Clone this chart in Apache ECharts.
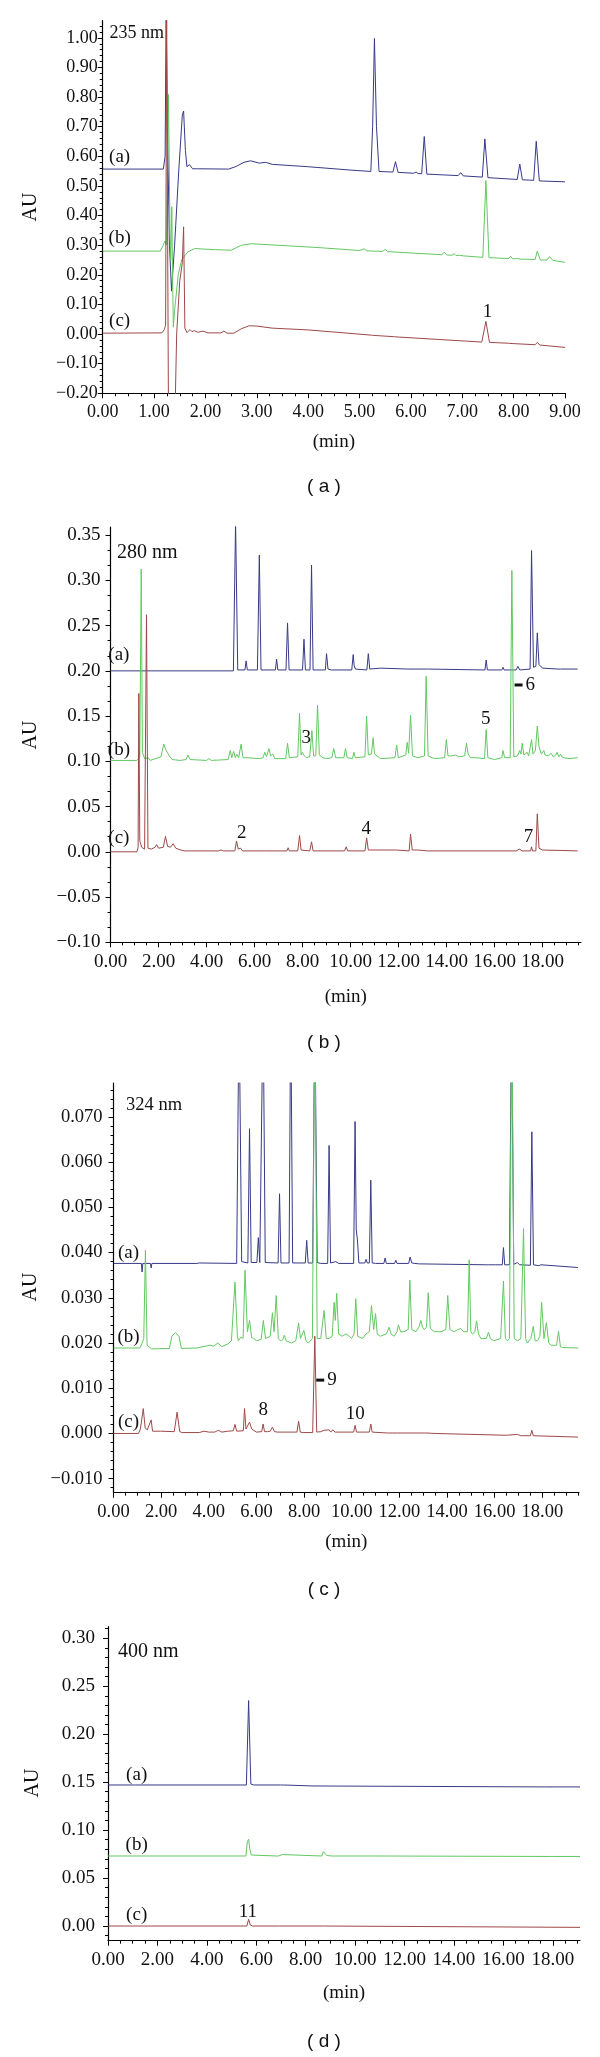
<!DOCTYPE html>
<html><head><meta charset="utf-8">
<script src="https://cdn.jsdelivr.net/npm/echarts@6/dist/echarts.min.js"></script>
<style>html,body{margin:0;padding:0;background:#fff}#c{width:600px;height:2057px}</style>
</head><body><div id="c"></div>
<script>
// ---------------- DATA ----------------
const xName = '(min)';
const yName = 'AU';
const captions = ['( a )', '( b )', '( c )', '( d )'];
const wavelengths = ['235 nm', '280 nm', '324 nm', '400 nm'];
const traceNames = ['(a)', '(b)', '(c)'];

// Panel (a) 235 nm : [time, AU]
const A_a = [[0,0.557],[1.18,0.557],[1.215,0.6],[1.235,1.10],[1.26,0.7],[1.30,0.30],[1.34,0.145],[1.40,0.30],[1.48,0.55],[1.55,0.74],[1.575,0.753],[1.61,0.62],[1.64,0.565],[1.69,0.572],[1.75,0.558],[1.85,0.558],[2.45,0.557],[2.6,0.566],[2.75,0.580],[2.88,0.585],[3.05,0.577],[3.17,0.580],[3.3,0.573],[4.0,0.565],[4.8,0.554],[5.22,0.549],[5.255,0.70],[5.29,0.998],[5.33,0.70],[5.38,0.549],[5.65,0.547],[5.70,0.582],[5.75,0.546],[6.05,0.543],[6.10,0.547],[6.14,0.542],[6.21,0.541],[6.26,0.667],[6.31,0.540],[6.92,0.535],[6.97,0.545],[7.02,0.534],[7.39,0.530],[7.44,0.659],[7.50,0.528],[8.07,0.522],[8.12,0.574],[8.17,0.521],[8.39,0.519],[8.44,0.651],[8.50,0.517],[9.0,0.514]];
const A_b = [[0,0.280],[1.12,0.280],[1.18,0.300],[1.21,0.314],[1.24,0.300],[1.28,0.809],[1.31,0.35],[1.325,0.25],[1.345,0.43],[1.36,0.20],[1.375,0.023],[1.40,0.08],[1.47,0.20],[1.54,0.252],[1.66,0.278],[1.8,0.289],[1.95,0.287],[2.2,0.285],[2.5,0.283],[2.7,0.300],[2.9,0.305],[3.2,0.302],[3.6,0.298],[4.2,0.292],[5.0,0.282],[5.09,0.288],[5.14,0.281],[5.45,0.279],[5.5,0.286],[5.55,0.278],[5.7,0.277],[5.73,0.282],[5.77,0.276],[6.6,0.268],[6.65,0.276],[6.7,0.267],[6.8,0.266],[6.84,0.272],[6.88,0.265],[6.95,0.266],[6.98,0.271],[7.02,0.264],[7.40,0.259],[7.46,0.518],[7.52,0.258],[7.9,0.255],[7.94,0.263],[7.98,0.254],[8.07,0.255],[8.1,0.261],[8.14,0.253],[8.42,0.252],[8.46,0.280],[8.52,0.250],[8.65,0.250],[8.70,0.262],[8.76,0.249],[9.0,0.242]];
const A_c = [[0,0.003],[1.15,0.004],[1.20,0.015],[1.225,0.03],[1.245,1.10],[1.265,0.30],[1.28,-0.25],[1.41,-0.25],[1.44,0.0],[1.50,0.18],[1.55,0.24],[1.575,0.362],[1.60,0.02],[1.64,0.005],[1.70,0.015],[1.74,0.008],[1.78,0.012],[1.85,0.006],[1.95,0.010],[2.05,0.004],[2.30,0.004],[2.36,0.010],[2.42,0.003],[2.55,0.003],[2.7,0.018],[2.85,0.028],[3.0,0.027],[3.3,0.020],[4.0,0.014],[4.7,0.004],[5.25,-0.004],[5.28,0.001],[5.32,-0.005],[5.68,-0.009],[5.71,-0.005],[5.75,-0.010],[7.38,-0.027],[7.46,0.043],[7.53,-0.028],[7.9,-0.031],[7.93,-0.028],[7.97,-0.032],[8.42,-0.036],[8.46,-0.028],[8.51,-0.037],[9.0,-0.045]];
const A_xTicks = [0,1,2,3,4,5,6,7,8,9];
const A_yTicks = [-0.2,-0.1,0,0.1,0.2,0.3,0.4,0.5,0.6,0.7,0.8,0.9,1.0];
const A_marks = [[0.33,0.597,'(a)'],[0.33,0.323,'(b)'],[0.33,0.045,'(c)'],[7.49,0.073,'1']];

// Panel (b) 280 nm
const B_a = [[0,0.2],[5.12,0.2],[5.21,0.365],[5.30,0.201],[5.60,0.201],[5.65,0.211],[5.70,0.201],[6.12,0.201],[6.20,0.328],[6.27,0.201],[6.87,0.201],[6.92,0.213],[6.97,0.201],[7.31,0.201],[7.375,0.253],[7.44,0.201],[8.0,0.201],[8.06,0.235],[8.12,0.201],[8.31,0.201],[8.375,0.317],[8.44,0.201],[8.95,0.201],[9.0,0.219],[9.06,0.202],[9.2,0.201],[10.05,0.201],[10.11,0.218],[10.15,0.206],[10.2,0.202],[10.68,0.201],[10.74,0.219],[10.80,0.202],[11.25,0.203],[11.3,0.201],[12.4,0.202],[13.2,0.202],[15.6,0.201],[15.65,0.212],[15.70,0.201],[16.30,0.201],[16.35,0.204],[16.40,0.201],[16.9,0.201],[16.97,0.205],[17.05,0.201],[17.48,0.202],[17.54,0.333],[17.62,0.204],[17.72,0.205],[17.78,0.242],[17.85,0.207],[18.0,0.203],[18.65,0.202],[18.7,0.204],[18.75,0.202],[19.46,0.202]];
const B_b = [[0,0.101],[1.1,0.101],[1.22,0.105],[1.28,0.3125],[1.33,0.110],[1.37,0.109],[1.42,0.103],[1.57,0.104],[1.65,0.101],[2.1,0.105],[2.22,0.119],[2.30,0.113],[2.36,0.114],[2.45,0.106],[2.57,0.102],[2.9,0.101],[3.15,0.102],[3.22,0.107],[3.32,0.102],[4.0,0.101],[4.1,0.103],[4.2,0.101],[4.9,0.102],[4.99,0.112],[5.05,0.104],[5.13,0.111],[5.2,0.104],[5.26,0.108],[5.34,0.104],[5.44,0.119],[5.52,0.104],[5.69,0.104],[6.2,0.103],[6.35,0.104],[6.43,0.110],[6.5,0.105],[6.6,0.114],[6.67,0.106],[6.76,0.108],[6.85,0.103],[7.3,0.103],[7.375,0.120],[7.45,0.104],[7.8,0.105],[7.875,0.153],[7.94,0.107],[7.99,0.110],[8.05,0.107],[8.15,0.104],[8.22,0.106],[8.3,0.105],[8.39,0.134],[8.46,0.106],[8.55,0.106],[8.625,0.162],[8.7,0.107],[8.85,0.104],[9.0,0.103],[9.22,0.104],[9.3,0.114],[9.38,0.104],[9.72,0.104],[9.79,0.114],[9.86,0.104],[10.08,0.103],[10.14,0.110],[10.2,0.104],[10.6,0.105],[10.67,0.150],[10.74,0.107],[10.87,0.108],[10.94,0.126],[11.0,0.108],[11.15,0.105],[11.25,0.103],[11.85,0.104],[11.92,0.118],[11.99,0.104],[12.3,0.107],[12.36,0.121],[12.42,0.109],[12.5,0.151],[12.58,0.106],[12.8,0.104],[13.08,0.106],[13.15,0.194],[13.23,0.106],[13.5,0.103],[13.92,0.104],[13.99,0.124],[14.06,0.106],[14.2,0.106],[14.38,0.107],[14.5,0.105],[14.75,0.106],[14.83,0.120],[14.9,0.108],[15.0,0.104],[15.2,0.104],[15.58,0.103],[15.65,0.135],[15.72,0.104],[16.0,0.102],[16.3,0.104],[16.35,0.112],[16.42,0.104],[16.65,0.104],[16.72,0.311],[16.80,0.105],[16.95,0.106],[17.05,0.112],[17.1,0.108],[17.15,0.120],[17.22,0.107],[17.3,0.108],[17.36,0.110],[17.42,0.106],[17.48,0.108],[17.54,0.124],[17.6,0.108],[17.7,0.112],[17.78,0.139],[17.85,0.116],[17.95,0.108],[18.05,0.112],[18.1,0.107],[18.25,0.106],[18.35,0.109],[18.45,0.105],[18.55,0.107],[18.6,0.110],[18.68,0.105],[18.75,0.108],[18.8,0.105],[18.9,0.104],[19.1,0.103],[19.46,0.104]];
const B_c = [[0,0.0],[1.1,0.0],[1.15,0.005],[1.18,0.175],[1.22,0.012],[1.30,0.005],[1.42,0.003],[1.50,0.262],[1.56,0.004],[1.7,0.003],[1.85,0.005],[1.92,0.008],[2.0,0.004],[2.2,0.005],[2.29,0.017],[2.38,0.006],[2.5,0.005],[2.61,0.009],[2.72,0.004],[2.92,0.002],[3.1,0.001],[4.5,0.001],[4.6,0.002],[4.7,0.001],[5.18,0.001],[5.25,0.012],[5.32,0.003],[5.42,0.004],[5.5,0.001],[6.45,0.001],[6.53,0.003],[6.6,0.001],[7.35,0.001],[7.4,0.0045],[7.45,0.001],[7.8,0.001],[7.875,0.018],[7.94,0.002],[8.3,0.001],[8.375,0.011],[8.44,0.001],[9.75,0.001],[9.82,0.0055],[9.88,0.001],[10.6,0.001],[10.67,0.0155],[10.74,0.002],[11.15,0.002],[11.2,0.001],[11.92,0.002],[12.44,0.001],[12.5,0.0195],[12.57,0.002],[12.8,0.002],[13.2,0.001],[16.9,0.001],[17.03,0.003],[17.15,0.001],[17.5,0.001],[17.54,0.0055],[17.58,0.001],[17.72,0.001],[17.78,0.042],[17.85,0.004],[18.0,0.002],[19.46,0.001]];
const B_xTicks = [0,2,4,6,8,10,12,14,16,18];
const B_yTicks = [-0.10,-0.05,0,0.05,0.10,0.15,0.20,0.25,0.30,0.35];
const B_marks = [[0.35,0.2176,'(a)'],[0.35,0.113,'(b)'],[0.35,0.0148,'(c)'],[5.47,0.021,'2'],[8.15,0.1254,'3'],[10.65,0.0248,'4'],[15.63,0.1465,'5'],[17.26,0.1844,'{d|}{n|6}'],[17.41,0.0166,'7']];

// Panel (c) 324 nm
const C_a = [[0,0.0376],[1.17,0.0376],[1.2,0.0357],[1.23,0.0376],[1.55,0.0376],[1.58,0.0366],[1.61,0.0376],[3.5,0.0376],[3.6,0.0377],[5.17,0.0376],[5.27,0.095],[5.38,0.038],[5.45,0.0377],[5.64,0.0377],[5.71,0.0674],[5.78,0.0378],[6.02,0.0378],[6.08,0.0433],[6.14,0.0378],[6.2,0.0378],[6.28,0.095],[6.37,0.0378],[6.91,0.0377],[6.97,0.053],[7.03,0.0377],[7.37,0.0377],[7.44,0.095],[7.52,0.0377],[8.05,0.0377],[8.11,0.0427],[8.17,0.0377],[8.36,0.0377],[8.45,0.095],[8.55,0.0378],[8.7,0.0376],[8.99,0.0376],[9.05,0.0637],[9.11,0.0377],[9.33,0.038],[9.45,0.0376],[10.08,0.0376],[10.14,0.069],[10.19,0.045],[10.24,0.0428],[10.3,0.0377],[10.55,0.0377],[10.6,0.0385],[10.65,0.0377],[10.74,0.0377],[10.8,0.056],[10.86,0.0377],[10.94,0.038],[11.0,0.0376],[11.35,0.0376],[11.4,0.0388],[11.45,0.0376],[11.8,0.0376],[11.85,0.0383],[11.9,0.0376],[12.39,0.0376],[12.45,0.039],[12.52,0.0377],[12.65,0.0376],[12.84,0.0375],[15.65,0.0373],[15.7,0.0377],[15.75,0.0373],[16.05,0.0373],[16.12,0.0375],[16.18,0.0373],[16.32,0.0373],[16.37,0.0411],[16.42,0.0373],[16.62,0.0373],[16.71,0.095],[16.8,0.0374],[16.95,0.0378],[17.05,0.0373],[17.5,0.0372],[17.56,0.0667],[17.63,0.0373],[17.7,0.0373],[17.85,0.0371],[17.94,0.0373],[18.0,0.0371],[19.5,0.0367]];
const C_b = [[0,0.0189],[1.1,0.0189],[1.19,0.0198],[1.27,0.021],[1.34,0.0405],[1.41,0.0195],[1.6,0.0187],[2.35,0.0188],[2.45,0.0215],[2.6,0.0223],[2.75,0.0215],[2.85,0.0188],[3.5,0.0189],[4.05,0.0195],[4.2,0.0193],[4.38,0.0200],[4.55,0.0192],[4.8,0.0198],[4.95,0.0205],[5.1,0.0335],[5.2,0.0215],[5.24,0.0205],[5.35,0.0213],[5.44,0.021],[5.52,0.0361],[5.62,0.0225],[5.71,0.025],[5.8,0.0212],[5.89,0.021],[6.0,0.0205],[6.2,0.0208],[6.29,0.025],[6.38,0.021],[6.46,0.021],[6.58,0.0215],[6.67,0.0267],[6.74,0.0225],[6.83,0.0305],[6.92,0.021],[7.0,0.0205],[7.1,0.0207],[7.17,0.0217],[7.25,0.0205],[7.47,0.020],[7.65,0.0205],[7.77,0.0244],[7.85,0.021],[7.99,0.0228],[8.08,0.0205],[8.18,0.020],[8.35,0.021],[8.45,0.095],[8.55,0.021],[8.7,0.021],[8.84,0.0272],[8.93,0.021],[9.05,0.021],[9.18,0.0215],[9.26,0.029],[9.31,0.025],[9.37,0.031],[9.45,0.022],[9.6,0.0215],[9.75,0.022],[9.85,0.0217],[9.99,0.021],[10.1,0.022],[10.17,0.0298],[10.25,0.0215],[10.45,0.021],[10.6,0.022],[10.74,0.0225],[10.83,0.0283],[10.92,0.023],[11.0,0.0265],[11.07,0.022],[11.2,0.0215],[11.45,0.022],[11.57,0.0235],[11.65,0.022],[11.78,0.0215],[11.9,0.0225],[11.96,0.024],[12.05,0.0225],[12.2,0.0225],[12.37,0.023],[12.44,0.0339],[12.52,0.023],[12.69,0.0225],[12.82,0.0235],[12.9,0.025],[12.97,0.0235],[13.04,0.023],[13.14,0.0235],[13.21,0.0311],[13.3,0.0232],[13.47,0.0225],[13.75,0.0225],[13.95,0.023],[14.03,0.0305],[14.12,0.023],[14.3,0.0225],[14.45,0.023],[14.58,0.0232],[14.7,0.0225],[14.86,0.0225],[14.93,0.0384],[15.0,0.0225],[15.07,0.022],[15.17,0.0225],[15.24,0.0249],[15.32,0.022],[15.42,0.021],[15.65,0.021],[15.74,0.0224],[15.82,0.021],[15.97,0.0205],[16.25,0.021],[16.37,0.0337],[16.45,0.021],[16.54,0.0205],[16.62,0.021],[16.72,0.095],[16.82,0.021],[16.95,0.0205],[17.1,0.021],[17.21,0.0453],[17.3,0.021],[17.37,0.020],[17.52,0.021],[17.62,0.0237],[17.7,0.0205],[17.8,0.0205],[17.9,0.0215],[17.97,0.029],[18.07,0.021],[18.17,0.0245],[18.27,0.020],[18.37,0.0195],[18.6,0.0195],[18.68,0.0226],[18.76,0.0192],[18.85,0.019],[19.5,0.0189]];
const C_c = [[0,0.0],[1.05,0.0],[1.13,0.001],[1.25,0.0055],[1.33,0.0012],[1.42,0.0008],[1.58,0.003],[1.64,0.0005],[1.69,0.0003],[1.97,0.0005],[2.05,0.0002],[2.55,0.0004],[2.67,0.0047],[2.78,0.0004],[2.88,0.0002],[3.6,0.0002],[3.8,0.0005],[4.0,0.0003],[4.25,0.0003],[4.4,0.0007],[4.55,0.0003],[4.8,0.0005],[5.03,0.0006],[5.1,0.002],[5.17,0.0005],[5.23,0.0003],[5.45,0.0006],[5.5,0.0055],[5.56,0.001],[5.63,0.001],[5.71,0.0025],[5.8,0.001],[6.0,0.0003],[6.22,0.0004],[6.28,0.0021],[6.34,0.0004],[6.46,0.0004],[6.58,0.0005],[6.67,0.0014],[6.76,0.0004],[6.89,0.0003],[7.15,0.0003],[7.7,0.0003],[7.77,0.0027],[7.84,0.0003],[7.96,0.0002],[8.36,0.0002],[8.45,0.0215],[8.53,0.0003],[8.7,0.0004],[8.78,0.0003],[8.84,0.0007],[8.9,0.0003],[9.05,0.0008],[9.12,0.0003],[9.21,0.0008],[9.3,0.0003],[10.08,0.0003],[10.14,0.0018],[10.2,0.0003],[10.74,0.0003],[10.8,0.0021],[10.86,0.0003],[10.94,0.0003],[11.5,0.0001],[11.92,0.0001],[12.82,0.0001],[12.87,0.0004],[12.92,0.0001],[13.06,0.0001],[13.11,0.0005],[13.16,0.0001],[13.5,0.0],[16.5,-0.0004],[16.95,-0.0002],[17.1,-0.0005],[17.5,-0.0005],[17.56,0.0007],[17.62,-0.0005],[19.5,-0.0008]];
const C_xTicks = [0,2,4,6,8,10,12,14,16,18];
const C_yTicks = [-0.010,0,0.010,0.020,0.030,0.040,0.050,0.060,0.070];
const C_marks = [[0.63,0.0399,'(a)'],[0.63,0.0214,'(b)'],[0.63,0.0026,'(c)'],[6.29,0.0052,'8'],[8.94,0.0118,'{d|}{n|9}'],[10.15,0.0044,'10']];

// Panel (d) 400 nm
const D_a = [[0,0.147],[1.1,0.147],[1.13,0.146],[1.16,0.147],[5.6,0.147],[5.69,0.235],[5.78,0.148],[5.9,0.147],[6.98,0.147],[7.04,0.148],[7.1,0.147],[8.3,0.146],[8.33,0.147],[17.6,0.145],[17.65,0.147],[17.7,0.145],[19.1,0.145]];
const D_b = [[0,0.073],[5.58,0.073],[5.64,0.088],[5.69,0.0904],[5.74,0.080],[5.8,0.074],[6.8,0.073],[6.85,0.074],[6.9,0.073],[6.97,0.0745],[7.05,0.0745],[7.12,0.0735],[8.65,0.073],[8.72,0.0775],[8.78,0.0775],[8.85,0.0735],[9.05,0.073],[9.1,0.074],[9.15,0.073],[10.55,0.073],[10.58,0.0745],[10.62,0.073],[10.82,0.073],[10.85,0.074],[10.88,0.073],[17.9,0.0725],[17.95,0.074],[18.0,0.0725],[19.1,0.0725]];
const D_c = [[0,0.0],[1.13,0.0],[1.16,-0.0007],[1.19,0.0],[5.62,0.0],[5.69,0.007],[5.76,0.001],[5.85,0.0],[6.95,0.0],[7.0,0.0015],[7.08,0.0],[8.72,0.0],[8.76,0.001],[8.8,0.0],[19.1,-0.0014]];
const D_xTicks = [0,2,4,6,8,10,12,14,16,18];
const D_yTicks = [0,0.05,0.10,0.15,0.20,0.25,0.30];
const D_marks = [[1.16,0.157,'(a)'],[1.16,0.0845,'(b)'],[1.16,0.0115,'(c)'],[5.66,0.0149,'11']];

// ---------------- LAYOUT / STYLE ----------------
const SERIF = '"Liberation Serif", "Times New Roman", serif';
const SANS = '"Liberation Sans", Arial, sans-serif';
const COLORS = ['#383a86', '#62c862', '#9e4848'];

const panels = [
  {grid:{left:102.7, top:20.7, width:462.3, height:372.6}, x:[0,9], y:[-0.2,1.058], xT:A_xTicks, yT:A_yTicks, xMinor:0.25, yMinor:0.02, xDec:2, yDec:2, fs:18, yMargin:5, traces:[A_a,A_b,A_c], marks:A_marks, wl:[109.6,33.3,18], au:[31,207], minY:442, capY:487},
  {grid:{left:110.5, top:527, width:470.5, height:415.3}, x:[0,19.6], y:[-0.10,0.359], xT:B_xTicks, yT:B_yTicks, xMinor:0.5, yMinor:0.05/3, xDec:2, yDec:2, fs:19, yMargin:10, traces:[B_a,B_b,B_c], marks:B_marks, wl:[117,553,20], au:[31,735], minY:997, capY:1043},
  {grid:{left:113.5, top:1083, width:465.5, height:409.7}, x:[0,19.54], y:[-0.0131,0.0775], xT:C_xTicks, yT:C_yTicks, xMinor:0.5, yMinor:0.002, xDec:2, yDec:3, fs:18.5, yMargin:11, traces:[C_a,C_b,C_c], marks:C_marks, wl:[126,1105,18.5], au:[31,1287], minY:1542, capY:1590},
  {grid:{left:108, top:1626.7, width:472, height:314}, x:[0,19.1], y:[-0.0153,0.312], xT:D_xTicks, yT:D_yTicks, xMinor:0.5, yMinor:0.01, xDec:2, yDec:2, fs:19, yMargin:13, traces:[D_a,D_b,D_c], marks:D_marks, wl:[118,1652,20], au:[33,1783], minY:1993, capY:2042}
];

function fmt(v, d) {
  if (Math.abs(v) < 1e-12) v = 0;
  return v < 0 ? '\u2212' + Math.abs(v).toFixed(d) : v.toFixed(d);
}
function minorVals(min, max, step) {
  const out = [];
  const k0 = Math.ceil(min / step - 1e-6), k1 = Math.floor(max / step + 1e-6);
  for (let k = k0; k <= k1; k++) out.push(+(k * step).toFixed(6));
  return out;
}

const grids = [], xAxes = [], yAxes = [], series = [], graphics = [];
panels.forEach((p, i) => {
  grids.push(Object.assign({outerBoundsMode:'none', containLabel:false}, p.grid));
  const lineStyle = {color:'#000', width:1.2};
  const tickStyle = {color:'#000', width:1};
  // major x
  xAxes.push({type:'value', gridIndex:i, position:'bottom', min:p.x[0], max:p.x[1], splitLine:{show:false},
    axisLine:{show:true, onZero:false, lineStyle},
    axisTick:{show:true, length:5, customValues:p.xT, lineStyle:tickStyle},
    axisLabel:{show:true, customValues:p.xT, margin:10, formatter:v => fmt(v, p.xDec), fontFamily:SERIF, fontSize:p.fs, color:'#111'}});
  // minor x
  xAxes.push({type:'value', gridIndex:i, position:'bottom', min:p.x[0], max:p.x[1], splitLine:{show:false},
    axisLine:{show:false, onZero:false}, axisLabel:{show:false},
    axisTick:{show:true, length:3, customValues:minorVals(p.x[0], p.x[1], p.xMinor), lineStyle:tickStyle}});
  // major y
  yAxes.push({type:'value', gridIndex:i, position:'left', min:p.y[0], max:p.y[1], splitLine:{show:false},
    axisLine:{show:true, onZero:false, lineStyle},
    axisTick:{show:true, length:5, customValues:p.yT, lineStyle:tickStyle},
    axisLabel:{show:true, customValues:p.yT, margin:p.yMargin, formatter:v => fmt(v, p.yDec), fontFamily:SERIF, fontSize:p.fs, color:'#111'}});
  // minor y
  yAxes.push({type:'value', gridIndex:i, position:'left', min:p.y[0], max:p.y[1], splitLine:{show:false},
    axisLine:{show:false, onZero:false}, axisLabel:{show:false},
    axisTick:{show:true, length:3, customValues:minorVals(p.y[0], p.y[1], p.yMinor), lineStyle:tickStyle}});

  p.traces.forEach((d, j) => {
    series.push({type:'line', name:traceNames[j], xAxisIndex:2*i, yAxisIndex:2*i, data:d,
      showSymbol:false, symbol:'none', clip:true, animation:false, silent:true,
      lineStyle:{color:COLORS[j], width:1}, z:2+j});
  });
  series.push({type:'scatter', xAxisIndex:2*i, yAxisIndex:2*i, symbol:'circle', symbolSize:2, silent:true, animation:false, z:10,
    itemStyle:{color:'rgba(255,255,255,0)'},
    data:p.marks.map(m => ({value:[m[0], m[1]], label:{show:true, formatter:m[2]}})),
    label:{show:true, position:'inside', color:'#111', fontFamily:SERIF, fontSize:19, opacity:1,
      rich:{d:{width:8, height:3, backgroundColor:'#111'}, n:{fontFamily:SERIF, fontSize:19, color:'#111', padding:[0,0,0,3]}}},
    labelLayout:{hideOverlap:false}});

  // wavelength label
  graphics.push({type:'text', x:p.wl[0], y:p.wl[1], style:{text:wavelengths[i], fontFamily:SERIF, fontSize:p.wl[2], fill:'#111', align:'left', verticalAlign:'middle'}});
  // AU
  graphics.push({type:'text', x:p.au[0], y:p.au[1], rotation:Math.PI/2, style:{text:yName, fontFamily:SERIF, fontSize:20, fill:'#111', align:'center', verticalAlign:'middle'}});
  // (min)
  graphics.push({type:'text', x:p.grid.left + p.grid.width/2, y:p.minY, style:{text:xName, fontFamily:SERIF, fontSize:19, fill:'#111', align:'center', verticalAlign:'middle'}});
  // caption
  graphics.push({type:'text', x:324, y:p.capY, style:{text:captions[i], fontFamily:SANS, fontSize:19, fill:'#111', align:'center', verticalAlign:'middle'}});
});

const chart = echarts.init(document.getElementById('c'), null, {renderer:'canvas', width:600, height:2057});
chart.setOption({animation:false, backgroundColor:'#fff', grid:grids, xAxis:xAxes, yAxis:yAxes, series, graphic:graphics, tooltip:{show:false}, legend:{show:false}});
</script></body></html>
